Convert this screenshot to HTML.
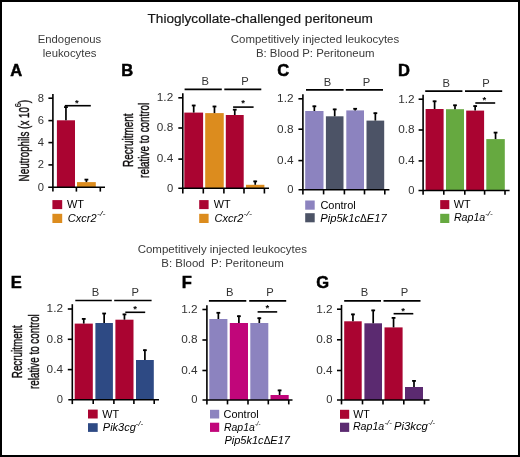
<!DOCTYPE html>
<html><head><meta charset="utf-8"><style>
html,body{margin:0;padding:0;background:#fff;}
svg{display:block;will-change:transform;font-family:"Liberation Sans",sans-serif;}
</style></head><body>
<svg width="520" height="457" viewBox="0 0 520 457">
<rect x="0" y="0" width="520" height="457" fill="#000"/>
<rect x="2" y="2" width="516" height="453" fill="#fff"/>
<rect x="56.9" y="120.3" width="18.1" height="67.0" fill="#AA0431"/>
<rect x="77" y="182.1" width="18.8" height="5.2" fill="#DC8C1E"/>
<line x1="65.95" y1="120.3" x2="65.95" y2="106.5" stroke="#000" stroke-width="1.7"/>
<line x1="64.05" y1="107.1" x2="67.85" y2="107.1" stroke="#000" stroke-width="1.8"/>
<line x1="86.4" y1="182.1" x2="86.4" y2="179.0" stroke="#000" stroke-width="1.7"/>
<line x1="84.5" y1="179.6" x2="88.3" y2="179.6" stroke="#000" stroke-width="1.8"/>
<line x1="52.9" y1="93.9" x2="52.9" y2="191.6" stroke="#000" stroke-width="1.6"/>
<line x1="48.2" y1="187.3" x2="105" y2="187.3" stroke="#000" stroke-width="1.6"/>
<line x1="76.4" y1="187.3" x2="76.4" y2="191.6" stroke="#000" stroke-width="1.6"/>
<line x1="100.3" y1="187.3" x2="100.3" y2="191.6" stroke="#000" stroke-width="1.6"/>
<line x1="48.4" y1="98.2" x2="52.9" y2="98.2" stroke="#000" stroke-width="1.6"/>
<line x1="48.4" y1="120.6" x2="52.9" y2="120.6" stroke="#000" stroke-width="1.6"/>
<line x1="48.4" y1="142.6" x2="52.9" y2="142.6" stroke="#000" stroke-width="1.6"/>
<line x1="48.4" y1="164.9" x2="52.9" y2="164.9" stroke="#000" stroke-width="1.6"/>
<text x="44.1" y="101.5" font-size="11.2" text-anchor="end" fill="#333333">8</text>
<text x="44.1" y="123.9" font-size="11.2" text-anchor="end" fill="#333333">6</text>
<text x="44.1" y="145.9" font-size="11.2" text-anchor="end" fill="#333333">4</text>
<text x="44.1" y="168.2" font-size="11.2" text-anchor="end" fill="#333333">2</text>
<text x="44.1" y="190.6" font-size="11.2" text-anchor="end" fill="#333333">0</text>
<line x1="64.8" y1="105.7" x2="90.8" y2="105.7" stroke="#000" stroke-width="1.6"/>
<text x="76.9" y="106.1" font-size="9.5" font-weight="bold" text-anchor="middle" fill="#000">*</text>
<rect x="184.3" y="112.6" width="18.8" height="75.7" fill="#AA0431"/>
<rect x="205.2" y="113.1" width="18.55" height="75.2" fill="#DC8C1E"/>
<rect x="225.8" y="115" width="17.9" height="73.3" fill="#AA0431"/>
<rect x="246" y="184.8" width="18.4" height="3.5" fill="#DC8C1E"/>
<line x1="193.7" y1="112.6" x2="193.7" y2="104.9" stroke="#000" stroke-width="1.7"/>
<line x1="191.8" y1="105.5" x2="195.6" y2="105.5" stroke="#000" stroke-width="1.8"/>
<line x1="214.47" y1="113.1" x2="214.47" y2="105.9" stroke="#000" stroke-width="1.7"/>
<line x1="212.57" y1="106.5" x2="216.38" y2="106.5" stroke="#000" stroke-width="1.8"/>
<line x1="234.75" y1="115" x2="234.75" y2="109.1" stroke="#000" stroke-width="1.7"/>
<line x1="232.85" y1="109.7" x2="236.65" y2="109.7" stroke="#000" stroke-width="1.8"/>
<line x1="255.2" y1="184.8" x2="255.2" y2="180.8" stroke="#000" stroke-width="1.7"/>
<line x1="253.3" y1="181.4" x2="257.1" y2="181.4" stroke="#000" stroke-width="1.8"/>
<line x1="182.8" y1="93.2" x2="182.8" y2="193.5" stroke="#000" stroke-width="1.6"/>
<line x1="178.3" y1="188.3" x2="269" y2="188.3" stroke="#000" stroke-width="1.6"/>
<line x1="203.3" y1="188.3" x2="203.3" y2="193.5" stroke="#000" stroke-width="1.6"/>
<line x1="223.9" y1="188.3" x2="223.9" y2="193.5" stroke="#000" stroke-width="1.6"/>
<line x1="244" y1="188.3" x2="244" y2="193.5" stroke="#000" stroke-width="1.6"/>
<line x1="264.4" y1="188.3" x2="264.4" y2="193.5" stroke="#000" stroke-width="1.6"/>
<line x1="178.3" y1="97.8" x2="182.8" y2="97.8" stroke="#000" stroke-width="1.6"/>
<line x1="178.3" y1="128" x2="182.8" y2="128" stroke="#000" stroke-width="1.6"/>
<line x1="178.3" y1="159.1" x2="182.8" y2="159.1" stroke="#000" stroke-width="1.6"/>
<text x="173.2" y="101.1" font-size="11.2" text-anchor="end" textLength="16.4" lengthAdjust="spacingAndGlyphs" fill="#333333">1.2</text>
<text x="173.2" y="131.3" font-size="11.2" text-anchor="end" textLength="16.4" lengthAdjust="spacingAndGlyphs" fill="#333333">0.8</text>
<text x="173.2" y="162.4" font-size="11.2" text-anchor="end" textLength="16.4" lengthAdjust="spacingAndGlyphs" fill="#333333">0.4</text>
<text x="173.2" y="191.6" font-size="11.2" text-anchor="end" fill="#333333">0</text>
<line x1="184.6" y1="89.4" x2="221.8" y2="89.4" stroke="#000" stroke-width="1.6"/>
<line x1="224.3" y1="89.4" x2="261.3" y2="89.4" stroke="#000" stroke-width="1.6"/>
<text x="205.2" y="85" font-size="11.2" text-anchor="middle" fill="#333333">B</text>
<text x="245" y="85" font-size="11.2" text-anchor="middle" fill="#333333">P</text>
<line x1="233.1" y1="107.1" x2="253.6" y2="107.1" stroke="#000" stroke-width="1.6"/>
<text x="243.1" y="106.0" font-size="9.5" font-weight="bold" text-anchor="middle" fill="#000">*</text>
<rect x="305.2" y="111" width="18.3" height="78.8" fill="#8C83BF"/>
<rect x="325.9" y="116.3" width="17.6" height="73.5" fill="#4C5366"/>
<rect x="346.3" y="110.4" width="17.7" height="79.4" fill="#8C83BF"/>
<rect x="366.5" y="120.6" width="17.7" height="69.2" fill="#4C5366"/>
<line x1="314.35" y1="111" x2="314.35" y2="105.7" stroke="#000" stroke-width="1.7"/>
<line x1="312.45" y1="106.3" x2="316.25" y2="106.3" stroke="#000" stroke-width="1.8"/>
<line x1="334.7" y1="116.3" x2="334.7" y2="108.8" stroke="#000" stroke-width="1.7"/>
<line x1="332.8" y1="109.4" x2="336.6" y2="109.4" stroke="#000" stroke-width="1.8"/>
<line x1="355.15" y1="110.4" x2="355.15" y2="108.2" stroke="#000" stroke-width="1.7"/>
<line x1="353.25" y1="108.8" x2="357.05" y2="108.8" stroke="#000" stroke-width="1.8"/>
<line x1="375.35" y1="120.6" x2="375.35" y2="112.6" stroke="#000" stroke-width="1.7"/>
<line x1="373.45" y1="113.2" x2="377.25" y2="113.2" stroke="#000" stroke-width="1.8"/>
<line x1="302.9" y1="94.3" x2="302.9" y2="194.4" stroke="#000" stroke-width="1.6"/>
<line x1="298.5" y1="189.8" x2="389.4" y2="189.8" stroke="#000" stroke-width="1.6"/>
<line x1="323.6" y1="189.8" x2="323.6" y2="194.4" stroke="#000" stroke-width="1.6"/>
<line x1="344.4" y1="189.8" x2="344.4" y2="194.4" stroke="#000" stroke-width="1.6"/>
<line x1="364.5" y1="189.8" x2="364.5" y2="194.4" stroke="#000" stroke-width="1.6"/>
<line x1="384.8" y1="189.8" x2="384.8" y2="194.4" stroke="#000" stroke-width="1.6"/>
<line x1="298.4" y1="98.8" x2="302.9" y2="98.8" stroke="#000" stroke-width="1.6"/>
<line x1="298.4" y1="129.2" x2="302.9" y2="129.2" stroke="#000" stroke-width="1.6"/>
<line x1="298.4" y1="160.6" x2="302.9" y2="160.6" stroke="#000" stroke-width="1.6"/>
<text x="293.5" y="102.1" font-size="11.2" text-anchor="end" textLength="16.4" lengthAdjust="spacingAndGlyphs" fill="#333333">1.2</text>
<text x="293.5" y="132.5" font-size="11.2" text-anchor="end" textLength="16.4" lengthAdjust="spacingAndGlyphs" fill="#333333">0.8</text>
<text x="293.5" y="163.9" font-size="11.2" text-anchor="end" textLength="16.4" lengthAdjust="spacingAndGlyphs" fill="#333333">0.4</text>
<text x="293.5" y="193.1" font-size="11.2" text-anchor="end" fill="#333333">0</text>
<line x1="306" y1="89.9" x2="343.6" y2="89.9" stroke="#000" stroke-width="1.6"/>
<line x1="345.8" y1="89.9" x2="383" y2="89.9" stroke="#000" stroke-width="1.6"/>
<text x="327.5" y="85.6" font-size="11.2" text-anchor="middle" fill="#333333">B</text>
<text x="366.5" y="85.6" font-size="11.2" text-anchor="middle" fill="#333333">P</text>
<rect x="425.6" y="109" width="18.0" height="81.5" fill="#AA0431"/>
<rect x="446" y="109.2" width="18" height="81.3" fill="#66A940"/>
<rect x="466.2" y="110.6" width="17.9" height="79.9" fill="#AA0431"/>
<rect x="486.3" y="139.1" width="18.5" height="51.4" fill="#66A940"/>
<line x1="434.6" y1="109" x2="434.6" y2="100.7" stroke="#000" stroke-width="1.7"/>
<line x1="432.7" y1="101.3" x2="436.5" y2="101.3" stroke="#000" stroke-width="1.8"/>
<line x1="455.0" y1="109.2" x2="455.0" y2="104.7" stroke="#000" stroke-width="1.7"/>
<line x1="453.1" y1="105.3" x2="456.9" y2="105.3" stroke="#000" stroke-width="1.8"/>
<line x1="475.15" y1="110.6" x2="475.15" y2="105.5" stroke="#000" stroke-width="1.7"/>
<line x1="473.25" y1="106.1" x2="477.05" y2="106.1" stroke="#000" stroke-width="1.8"/>
<line x1="495.55" y1="139.1" x2="495.55" y2="132.0" stroke="#000" stroke-width="1.7"/>
<line x1="493.65" y1="132.6" x2="497.45" y2="132.6" stroke="#000" stroke-width="1.8"/>
<line x1="423.1" y1="94.8" x2="423.1" y2="194.7" stroke="#000" stroke-width="1.6"/>
<line x1="418.5" y1="190.5" x2="509.6" y2="190.5" stroke="#000" stroke-width="1.6"/>
<line x1="443.8" y1="190.5" x2="443.8" y2="194.7" stroke="#000" stroke-width="1.6"/>
<line x1="464.8" y1="190.5" x2="464.8" y2="194.7" stroke="#000" stroke-width="1.6"/>
<line x1="484.6" y1="190.5" x2="484.6" y2="194.7" stroke="#000" stroke-width="1.6"/>
<line x1="505" y1="190.5" x2="505" y2="194.7" stroke="#000" stroke-width="1.6"/>
<line x1="418.6" y1="99.2" x2="423.1" y2="99.2" stroke="#000" stroke-width="1.6"/>
<line x1="418.6" y1="130" x2="423.1" y2="130" stroke="#000" stroke-width="1.6"/>
<line x1="418.6" y1="160.9" x2="423.1" y2="160.9" stroke="#000" stroke-width="1.6"/>
<text x="414.6" y="102.5" font-size="11.2" text-anchor="end" textLength="16.4" lengthAdjust="spacingAndGlyphs" fill="#333333">1.2</text>
<text x="414.6" y="133.3" font-size="11.2" text-anchor="end" textLength="16.4" lengthAdjust="spacingAndGlyphs" fill="#333333">0.8</text>
<text x="414.6" y="164.2" font-size="11.2" text-anchor="end" textLength="16.4" lengthAdjust="spacingAndGlyphs" fill="#333333">0.4</text>
<text x="414.6" y="193.8" font-size="11.2" text-anchor="end" fill="#333333">0</text>
<line x1="425.2" y1="91.1" x2="462.4" y2="91.1" stroke="#000" stroke-width="1.6"/>
<line x1="465" y1="91.1" x2="502.2" y2="91.1" stroke="#000" stroke-width="1.6"/>
<text x="446.3" y="87" font-size="11.2" text-anchor="middle" fill="#333333">B</text>
<text x="486.1" y="87" font-size="11.2" text-anchor="middle" fill="#333333">P</text>
<line x1="475.3" y1="103" x2="495.2" y2="103" stroke="#000" stroke-width="1.6"/>
<text x="484.4" y="102.8" font-size="9.5" font-weight="bold" text-anchor="middle" fill="#000">*</text>
<rect x="74.7" y="323.6" width="18.1" height="76.1" fill="#AA0431"/>
<rect x="95.4" y="323" width="17.5" height="76.7" fill="#2E4A84"/>
<rect x="115.4" y="319.7" width="18.1" height="80.0" fill="#AA0431"/>
<rect x="136" y="360" width="17.8" height="39.7" fill="#2E4A84"/>
<line x1="83.75" y1="323.6" x2="83.75" y2="318.3" stroke="#000" stroke-width="1.7"/>
<line x1="81.85" y1="318.9" x2="85.65" y2="318.9" stroke="#000" stroke-width="1.8"/>
<line x1="104.15" y1="323" x2="104.15" y2="312.9" stroke="#000" stroke-width="1.7"/>
<line x1="102.25" y1="313.5" x2="106.05" y2="313.5" stroke="#000" stroke-width="1.8"/>
<line x1="124.45" y1="319.7" x2="124.45" y2="313.8" stroke="#000" stroke-width="1.7"/>
<line x1="122.55" y1="314.4" x2="126.35" y2="314.4" stroke="#000" stroke-width="1.8"/>
<line x1="144.9" y1="360" x2="144.9" y2="349.6" stroke="#000" stroke-width="1.7"/>
<line x1="143.0" y1="350.2" x2="146.8" y2="350.2" stroke="#000" stroke-width="1.8"/>
<line x1="72.3" y1="304.2" x2="72.3" y2="404.1" stroke="#000" stroke-width="1.6"/>
<line x1="68.3" y1="399.7" x2="159" y2="399.7" stroke="#000" stroke-width="1.6"/>
<line x1="93.2" y1="399.7" x2="93.2" y2="404.1" stroke="#000" stroke-width="1.6"/>
<line x1="113.9" y1="399.7" x2="113.9" y2="404.1" stroke="#000" stroke-width="1.6"/>
<line x1="133.9" y1="399.7" x2="133.9" y2="404.1" stroke="#000" stroke-width="1.6"/>
<line x1="154.2" y1="399.7" x2="154.2" y2="404.1" stroke="#000" stroke-width="1.6"/>
<line x1="67.8" y1="309" x2="72.3" y2="309" stroke="#000" stroke-width="1.6"/>
<line x1="67.8" y1="339.3" x2="72.3" y2="339.3" stroke="#000" stroke-width="1.6"/>
<line x1="67.8" y1="369.6" x2="72.3" y2="369.6" stroke="#000" stroke-width="1.6"/>
<text x="63" y="312.3" font-size="11.2" text-anchor="end" textLength="16.4" lengthAdjust="spacingAndGlyphs" fill="#333333">1.2</text>
<text x="63" y="342.6" font-size="11.2" text-anchor="end" textLength="16.4" lengthAdjust="spacingAndGlyphs" fill="#333333">0.8</text>
<text x="63" y="372.9" font-size="11.2" text-anchor="end" textLength="16.4" lengthAdjust="spacingAndGlyphs" fill="#333333">0.4</text>
<text x="63" y="403.0" font-size="11.2" text-anchor="end" fill="#333333">0</text>
<line x1="75.3" y1="300.5" x2="111.8" y2="300.5" stroke="#000" stroke-width="1.6"/>
<line x1="114.2" y1="300.5" x2="151.6" y2="300.5" stroke="#000" stroke-width="1.6"/>
<text x="95.6" y="295.8" font-size="11.2" text-anchor="middle" fill="#333333">B</text>
<text x="135.2" y="295.8" font-size="11.2" text-anchor="middle" fill="#333333">P</text>
<line x1="125.3" y1="312.3" x2="145.2" y2="312.3" stroke="#000" stroke-width="1.6"/>
<text x="135.1" y="311.7" font-size="9.5" font-weight="bold" text-anchor="middle" fill="#000">*</text>
<rect x="209.3" y="319" width="18.1" height="81" fill="#8C83BF"/>
<rect x="229.8" y="323" width="18.2" height="77" fill="#C1067A"/>
<rect x="250.3" y="323" width="18.0" height="77" fill="#8C83BF"/>
<rect x="270.5" y="395" width="18.2" height="5" fill="#C1067A"/>
<line x1="218.35" y1="319" x2="218.35" y2="312.2" stroke="#000" stroke-width="1.7"/>
<line x1="216.45" y1="312.8" x2="220.25" y2="312.8" stroke="#000" stroke-width="1.8"/>
<line x1="238.9" y1="323" x2="238.9" y2="315.6" stroke="#000" stroke-width="1.7"/>
<line x1="237.0" y1="316.2" x2="240.8" y2="316.2" stroke="#000" stroke-width="1.8"/>
<line x1="259.3" y1="323" x2="259.3" y2="317.6" stroke="#000" stroke-width="1.7"/>
<line x1="257.4" y1="318.2" x2="261.2" y2="318.2" stroke="#000" stroke-width="1.8"/>
<line x1="279.6" y1="395" x2="279.6" y2="389.8" stroke="#000" stroke-width="1.7"/>
<line x1="277.7" y1="390.4" x2="281.5" y2="390.4" stroke="#000" stroke-width="1.8"/>
<line x1="206.9" y1="305.2" x2="206.9" y2="404.4" stroke="#000" stroke-width="1.6"/>
<line x1="202.5" y1="400" x2="292.5" y2="400" stroke="#000" stroke-width="1.6"/>
<line x1="227.5" y1="400" x2="227.5" y2="404.4" stroke="#000" stroke-width="1.6"/>
<line x1="248" y1="400" x2="248" y2="404.4" stroke="#000" stroke-width="1.6"/>
<line x1="268.3" y1="400" x2="268.3" y2="404.4" stroke="#000" stroke-width="1.6"/>
<line x1="288.75" y1="400" x2="288.75" y2="404.4" stroke="#000" stroke-width="1.6"/>
<line x1="202.4" y1="309.5" x2="206.9" y2="309.5" stroke="#000" stroke-width="1.6"/>
<line x1="202.4" y1="340" x2="206.9" y2="340" stroke="#000" stroke-width="1.6"/>
<line x1="202.4" y1="370.5" x2="206.9" y2="370.5" stroke="#000" stroke-width="1.6"/>
<text x="197.6" y="312.8" font-size="11.2" text-anchor="end" textLength="16.4" lengthAdjust="spacingAndGlyphs" fill="#333333">1.2</text>
<text x="197.6" y="343.3" font-size="11.2" text-anchor="end" textLength="16.4" lengthAdjust="spacingAndGlyphs" fill="#333333">0.8</text>
<text x="197.6" y="373.8" font-size="11.2" text-anchor="end" textLength="16.4" lengthAdjust="spacingAndGlyphs" fill="#333333">0.4</text>
<text x="197.6" y="403.3" font-size="11.2" text-anchor="end" fill="#333333">0</text>
<line x1="208.9" y1="300.9" x2="246.3" y2="300.9" stroke="#000" stroke-width="1.6"/>
<line x1="249.2" y1="300.9" x2="286.2" y2="300.9" stroke="#000" stroke-width="1.6"/>
<text x="229.8" y="296.2" font-size="11.2" text-anchor="middle" fill="#333333">B</text>
<text x="270.1" y="296.2" font-size="11.2" text-anchor="middle" fill="#333333">P</text>
<line x1="257.6" y1="311.9" x2="277.2" y2="311.9" stroke="#000" stroke-width="1.6"/>
<text x="267.4" y="310.8" font-size="9.5" font-weight="bold" text-anchor="middle" fill="#000">*</text>
<rect x="344.2" y="321.3" width="17.5" height="78.7" fill="#AA0431"/>
<rect x="364.4" y="323.3" width="17.6" height="76.7" fill="#5B2A70"/>
<rect x="384.5" y="327.4" width="18.1" height="72.6" fill="#AA0431"/>
<rect x="405" y="387" width="18" height="13" fill="#5B2A70"/>
<line x1="352.95" y1="321.3" x2="352.95" y2="313.8" stroke="#000" stroke-width="1.7"/>
<line x1="351.05" y1="314.4" x2="354.85" y2="314.4" stroke="#000" stroke-width="1.8"/>
<line x1="373.2" y1="323.3" x2="373.2" y2="309.8" stroke="#000" stroke-width="1.7"/>
<line x1="371.3" y1="310.4" x2="375.1" y2="310.4" stroke="#000" stroke-width="1.8"/>
<line x1="393.55" y1="327.4" x2="393.55" y2="317.3" stroke="#000" stroke-width="1.7"/>
<line x1="391.65" y1="317.9" x2="395.45" y2="317.9" stroke="#000" stroke-width="1.8"/>
<line x1="414.0" y1="387" x2="414.0" y2="380.3" stroke="#000" stroke-width="1.7"/>
<line x1="412.1" y1="380.9" x2="415.9" y2="380.9" stroke="#000" stroke-width="1.8"/>
<line x1="341.5" y1="304.9" x2="341.5" y2="404.4" stroke="#000" stroke-width="1.6"/>
<line x1="337" y1="400" x2="429.5" y2="400" stroke="#000" stroke-width="1.6"/>
<line x1="362.5" y1="400" x2="362.5" y2="404.4" stroke="#000" stroke-width="1.6"/>
<line x1="383" y1="400" x2="383" y2="404.4" stroke="#000" stroke-width="1.6"/>
<line x1="403.8" y1="400" x2="403.8" y2="404.4" stroke="#000" stroke-width="1.6"/>
<line x1="424.5" y1="400" x2="424.5" y2="404.4" stroke="#000" stroke-width="1.6"/>
<line x1="337.0" y1="309.2" x2="341.5" y2="309.2" stroke="#000" stroke-width="1.6"/>
<line x1="337.0" y1="339.8" x2="341.5" y2="339.8" stroke="#000" stroke-width="1.6"/>
<line x1="337.0" y1="370.5" x2="341.5" y2="370.5" stroke="#000" stroke-width="1.6"/>
<text x="332.6" y="312.5" font-size="11.2" text-anchor="end" textLength="16.4" lengthAdjust="spacingAndGlyphs" fill="#333333">1.2</text>
<text x="332.6" y="343.1" font-size="11.2" text-anchor="end" textLength="16.4" lengthAdjust="spacingAndGlyphs" fill="#333333">0.8</text>
<text x="332.6" y="373.8" font-size="11.2" text-anchor="end" textLength="16.4" lengthAdjust="spacingAndGlyphs" fill="#333333">0.4</text>
<text x="332.6" y="403.3" font-size="11.2" text-anchor="end" fill="#333333">0</text>
<line x1="344.2" y1="300.9" x2="381" y2="300.9" stroke="#000" stroke-width="1.6"/>
<line x1="383.5" y1="300.9" x2="420.5" y2="300.9" stroke="#000" stroke-width="1.6"/>
<text x="364.6" y="296.4" font-size="11.2" text-anchor="middle" fill="#333333">B</text>
<text x="404.6" y="296.4" font-size="11.2" text-anchor="middle" fill="#333333">P</text>
<line x1="393.6" y1="313.7" x2="413.3" y2="313.7" stroke="#000" stroke-width="1.6"/>
<text x="403" y="313.7" font-size="9.5" font-weight="bold" text-anchor="middle" fill="#000">*</text>
<text x="147.5" y="22.8" font-size="13.7" textLength="225.4" lengthAdjust="spacingAndGlyphs" fill="#151515" stroke="#151515" stroke-width="0.2">Thioglycollate-challenged peritoneum</text>
<text x="69.5" y="42.6" font-size="11.6" text-anchor="middle" textLength="63.6" lengthAdjust="spacingAndGlyphs" fill="#3a3a3a">Endogenous</text>
<text x="69.6" y="56.7" font-size="11.6" text-anchor="middle" textLength="53.6" lengthAdjust="spacingAndGlyphs" fill="#3a3a3a">leukocytes</text>
<text x="315" y="42.8" font-size="11.7" text-anchor="middle" textLength="168.4" lengthAdjust="spacingAndGlyphs" fill="#3a3a3a">Competitively injected leukocytes</text>
<text x="315.2" y="56.8" font-size="11.7" text-anchor="middle" textLength="118.6" lengthAdjust="spacingAndGlyphs" fill="#3a3a3a">B: Blood P: Peritoneum</text>
<text x="222.3" y="253.1" font-size="11.7" text-anchor="middle" textLength="169.2" lengthAdjust="spacingAndGlyphs" fill="#3a3a3a">Competitively injected leukocytes</text>
<text x="222.6" y="267.2" font-size="11.7" text-anchor="middle" textLength="122.6" lengthAdjust="spacingAndGlyphs" fill="#3a3a3a">B: Blood&#160;&#160;P: Peritoneum</text>
<text x="10.2" y="76.0" font-size="16.5" font-weight="bold" fill="#000" stroke="#000" stroke-width="0.5">A</text>
<text x="121.3" y="76.0" font-size="16.5" font-weight="bold" fill="#000" stroke="#000" stroke-width="0.5">B</text>
<text x="277.2" y="76.0" font-size="16.5" font-weight="bold" fill="#000" stroke="#000" stroke-width="0.5">C</text>
<text x="398" y="76.0" font-size="16.5" font-weight="bold" fill="#000" stroke="#000" stroke-width="0.5">D</text>
<text x="10.7" y="288.2" font-size="16.5" font-weight="bold" fill="#000" stroke="#000" stroke-width="0.5">E</text>
<text x="181.8" y="288.2" font-size="16.5" font-weight="bold" fill="#000" stroke="#000" stroke-width="0.5">F</text>
<text x="316.2" y="288.3" font-size="16.5" font-weight="bold" fill="#000" stroke="#000" stroke-width="0.5">G</text>
<text x="0" y="0" font-size="13.8" text-anchor="middle" textLength="53.6" lengthAdjust="spacingAndGlyphs" transform="translate(132.6,140.25) rotate(-90)" stroke="#231F20" stroke-width="0.45">Recruitment</text>
<text x="0" y="0" font-size="13.8" text-anchor="middle" textLength="75.2" lengthAdjust="spacingAndGlyphs" transform="translate(148.6,140.3) rotate(-90)" stroke="#231F20" stroke-width="0.45">relative to control</text>
<text x="0" y="0" font-size="13.8" text-anchor="middle" textLength="53.0" lengthAdjust="spacingAndGlyphs" transform="translate(22.2,351.7) rotate(-90)" stroke="#231F20" stroke-width="0.45">Recruitment</text>
<text x="0" y="0" font-size="13.8" text-anchor="middle" textLength="74.8" lengthAdjust="spacingAndGlyphs" transform="translate(38.5,351.6) rotate(-90)" stroke="#231F20" stroke-width="0.45">relative to control</text>
<text x="0" y="0" font-size="13.8" textLength="74.4" lengthAdjust="spacingAndGlyphs" transform="translate(29.0,181.4) rotate(-90)" stroke="#231F20" stroke-width="0.45">Neutrophils (x 10</text>
<text x="0" y="0" font-size="8.5" textLength="4.2" lengthAdjust="spacingAndGlyphs" transform="translate(20.8,107.3) rotate(-90)" stroke="#231F20" stroke-width="0.2">6</text>
<text x="0" y="0" font-size="13.8" textLength="3.4" lengthAdjust="spacingAndGlyphs" transform="translate(29.0,103.2) rotate(-90)" stroke="#231F20" stroke-width="0.45">)</text>
<rect x="52.4" y="200.1" width="9.8" height="9.0" fill="#AA0431"/>
<rect x="52.4" y="213.8" width="9.8" height="9.2" fill="#DC8C1E"/>
<text x="66.9" y="208.1" font-size="11" textLength="17.0" lengthAdjust="spacingAndGlyphs">WT</text>
<text x="67.8" y="221.5" font-size="11" textLength="28.8" lengthAdjust="spacingAndGlyphs" font-style="italic">Cxcr2</text>
<text x="96.9" y="216.3" font-size="7" textLength="8.5" lengthAdjust="spacingAndGlyphs" font-style="italic">-/-</text>
<rect x="199.2" y="200.1" width="9.4" height="9.0" fill="#AA0431"/>
<rect x="199.2" y="213.8" width="9.4" height="9.2" fill="#DC8C1E"/>
<text x="213.8" y="208.1" font-size="11" textLength="16.8" lengthAdjust="spacingAndGlyphs">WT</text>
<text x="214.5" y="221.6" font-size="11" textLength="28.8" lengthAdjust="spacingAndGlyphs" font-style="italic">Cxcr2</text>
<text x="243.5" y="216.4" font-size="7" textLength="8.6" lengthAdjust="spacingAndGlyphs" font-style="italic">-/-</text>
<rect x="305.2" y="200.5" width="9.5" height="9.2" fill="#8C83BF"/>
<rect x="305.2" y="213.2" width="9.5" height="9.1" fill="#4C5366"/>
<text x="320.4" y="208.5" font-size="11" textLength="35.4" lengthAdjust="spacingAndGlyphs">Control</text>
<text x="320.2" y="221.6" font-size="11" textLength="66.6" lengthAdjust="spacingAndGlyphs" font-style="italic">Pip5k1c<tspan font-style="normal" font-size="10">&#916;</tspan>E17</text>
<rect x="440.2" y="200.1" width="9.1" height="9.0" fill="#AA0431"/>
<rect x="440.2" y="213.8" width="9.1" height="9.2" fill="#66A940"/>
<text x="453.8" y="208.0" font-size="11" textLength="16.8" lengthAdjust="spacingAndGlyphs">WT</text>
<text x="453.9" y="221.3" font-size="11" textLength="31.4" lengthAdjust="spacingAndGlyphs" font-style="italic">Rap1a</text>
<text x="485.2" y="216.3" font-size="7" textLength="7.6" lengthAdjust="spacingAndGlyphs" font-style="italic">-/-</text>
<rect x="88" y="409.6" width="9.7" height="8.9" fill="#AA0431"/>
<rect x="88" y="423.2" width="9.7" height="8.7" fill="#2E4A84"/>
<text x="102.3" y="417.8" font-size="11" textLength="16.8" lengthAdjust="spacingAndGlyphs">WT</text>
<text x="102.8" y="431.2" font-size="11" textLength="33.0" lengthAdjust="spacingAndGlyphs" font-style="italic">Pik3cg</text>
<text x="135.6" y="426.1" font-size="7" textLength="7.6" lengthAdjust="spacingAndGlyphs" font-style="italic">-/-</text>
<rect x="210" y="409.8" width="9.2" height="8.7" fill="#8C83BF"/>
<rect x="210" y="422.7" width="9.2" height="9.2" fill="#C1067A"/>
<text x="223.6" y="417.7" font-size="11" textLength="35.2" lengthAdjust="spacingAndGlyphs">Control</text>
<text x="224.0" y="431.2" font-size="11" textLength="30.8" lengthAdjust="spacingAndGlyphs" font-style="italic">Rap1a</text>
<text x="254.9" y="426.1" font-size="7" textLength="5.6" lengthAdjust="spacingAndGlyphs" font-style="italic">-/-</text>
<text x="224.4" y="444.2" font-size="11" textLength="65.6" lengthAdjust="spacingAndGlyphs" font-style="italic">Pip5k1c<tspan font-style="normal" font-size="10">&#916;</tspan>E17</text>
<rect x="340" y="409.8" width="9.2" height="9.0" fill="#AA0431"/>
<rect x="340" y="422.7" width="9.2" height="9.2" fill="#5B2A70"/>
<text x="353.2" y="417.5" font-size="11" textLength="16.4" lengthAdjust="spacingAndGlyphs">WT</text>
<text x="352.9" y="429.8" font-size="11" textLength="31.4" lengthAdjust="spacingAndGlyphs" font-style="italic">Rap1a</text>
<text x="384.4" y="424.7" font-size="7" textLength="7.4" lengthAdjust="spacingAndGlyphs" font-style="italic">-/-</text>
<text x="393.9" y="429.8" font-size="11" textLength="34.0" lengthAdjust="spacingAndGlyphs" font-style="italic">Pi3kcg</text>
<text x="428.0" y="424.7" font-size="7" textLength="7.0" lengthAdjust="spacingAndGlyphs" font-style="italic">-/-</text>
</svg>
</body></html>
